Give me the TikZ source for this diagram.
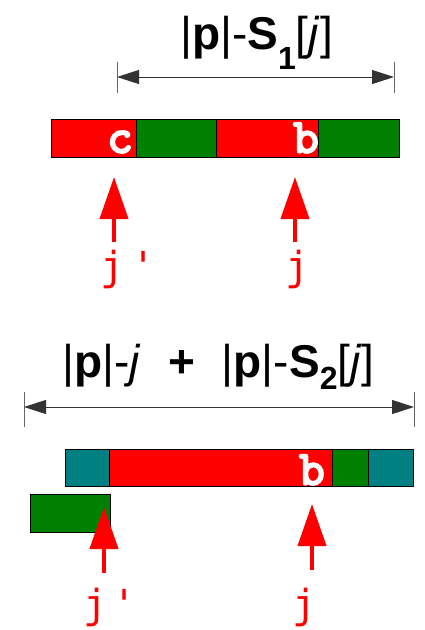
\documentclass[tikz,border=0pt]{standalone}
\usepackage{fontspec}
\setmainfont{Liberation Sans}
\newfontfamily\labmono{DejaVu Sans Mono}
\newfontfamily\barmono{lmmonolt10-bold}[Extension=.otf, FakeBold=2.5]
\usetikzlibrary{arrows.meta}
\definecolor{cred}{HTML}{FF0000}
\definecolor{cgreen}{HTML}{008000}
\definecolor{cteal}{HTML}{008080}
\tikzset{
  seg/.style={draw=black, line width=0.9pt},
  dimline/.style={draw=black!80, line width=0.9pt, {Triangle[length=22pt,width=14pt]}-{Triangle[length=22pt,width=14pt]}},
  dimtick/.style={draw=black!60, line width=0.9pt},
  ptr/.style={draw=cred, line width=4pt, -{Triangle[length=42pt,width=28pt]}},
  ptrlab/.style={text=cred, font=\labmono\fontsize{40}{40}\selectfont, inner sep=0pt, anchor=base west},
  barlab/.style={text=white, font=\barmono\fontsize{50}{50}\selectfont, inner sep=0pt, anchor=base},
  formula/.style={font=\fontsize{46}{46}\selectfont, inner sep=0pt, anchor=base west}
}
\newcommand{\sbl}[2]{\raisebox{#2}{\fontsize{32}{32}\selectfont\bfseries #1}}
\begin{document}
\begin{tikzpicture}[x=1pt,y=-1pt]
\useasboundingbox (0,0) rectangle (425,630);
% ---- top formula and dimension
\node[formula] (f1) at (180,49) {|\textbf{p}|-\textbf{S}\sbl{1}{-20pt}[\textit{j}]};
\coordinate (t1a) at (117,62); \coordinate (t1b) at (117,93);
\coordinate (t2a) at (394,62); \coordinate (t2b) at (394,93);
\draw[dimtick] (t1a) -- (t1b);
\draw[dimtick] (t2a) -- (t2b);
\coordinate (d1l) at (117,77); \coordinate (d1r) at (394,77);
\draw[dimline] (d1l) -- (d1r);
% ---- top bar
\filldraw[seg, fill=cred]   (51,119) rectangle (136,157);
\filldraw[seg, fill=cgreen] (136,119) rectangle (216,157);
\filldraw[seg, fill=cred]   (216,119) rectangle (318,157);
\filldraw[seg, fill=cgreen] (318,119) rectangle (399,157);
\node[barlab] (c1) at (120,153) {c};
\node[barlab] (b1) at (306,153) {b};
% ---- top pointers
\node[ptrlab] (jp1) at (100,280) {j\kern7pt'};
\node[ptrlab] (j1) at (285,280) {j};
\coordinate (s1) at (114,242); \coordinate (h1) at (114,177);
\coordinate (s2) at (295,242); \coordinate (h2) at (295,177);
\draw[ptr] (s1) -- (h1);
\draw[ptr] (s2) -- (h2);
% ---- second formula and dimension
\node[formula] (f2) at (62,377) {|\textbf{p}|-\textit{j}\hspace{0.6em}\textbf{+}\hspace{0.58em}|\textbf{p}|-\textbf{S}\sbl{2}{-12pt}[\textit{j}]};
\coordinate (u1a) at (24,392); \coordinate (u1b) at (24,427);
\coordinate (u2a) at (414,392); \coordinate (u2b) at (414,427);
\draw[dimtick] (u1a) -- (u1b);
\draw[dimtick] (u2a) -- (u2b);
\coordinate (d2l) at (24,407); \coordinate (d2r) at (414,407);
\draw[dimline] (d2l) -- (d2r);
% ---- bottom bar
\filldraw[seg, fill=cteal]  (65,449) rectangle (109,486);
\filldraw[seg, fill=cred]   (109,449) rectangle (332,486);
\filldraw[seg, fill=cgreen] (332,449) rectangle (368,486);
\filldraw[seg, fill=cteal]  (368,449) rectangle (413,486);
\node[barlab] (b2) at (312,485) {b};
\filldraw[seg, fill=cgreen] (30,494) rectangle (110,532);
% ---- bottom pointers
\node[ptrlab] (jp2) at (83,618) {j\kern5pt'};
\node[ptrlab] (j2) at (292,618) {j};
\coordinate (s3) at (104,573); \coordinate (h3) at (104,507);
\coordinate (s4) at (312,570); \coordinate (h4) at (312,504);
\draw[ptr] (s3) -- (h3);
\draw[ptr] (s4) -- (h4);
\end{tikzpicture}
\end{document}
